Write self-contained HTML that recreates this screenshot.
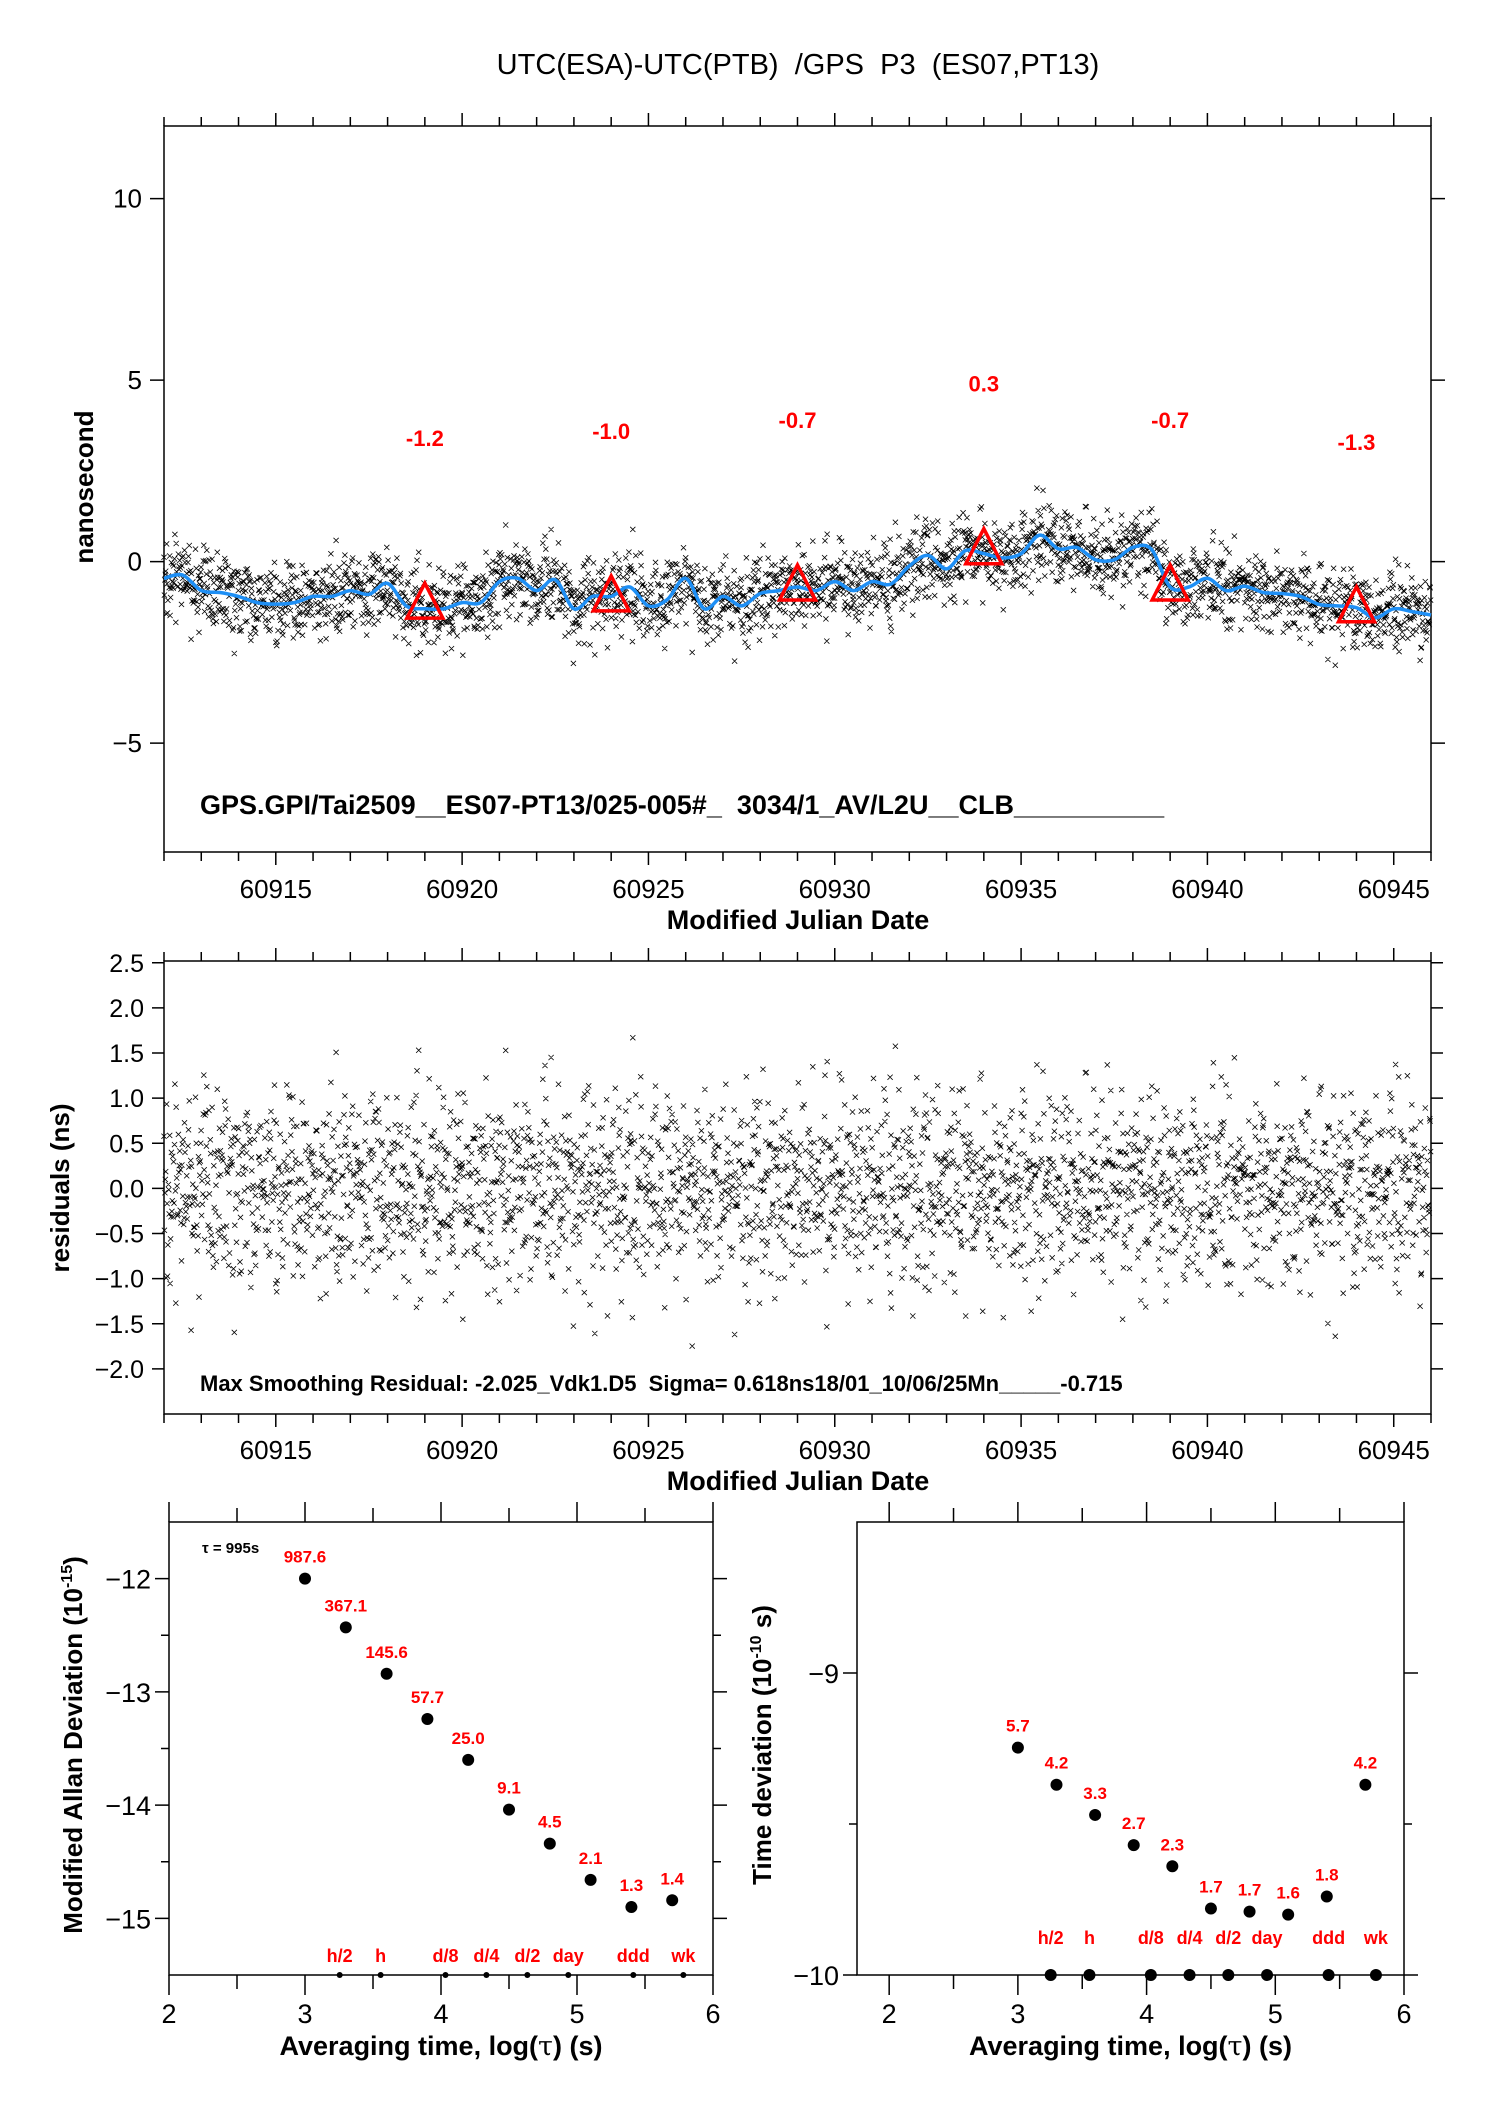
<!DOCTYPE html>
<html><head><meta charset="utf-8">
<style>
html,body{margin:0;padding:0;background:#fff;}
svg{display:block;font-family:"Liberation Sans",sans-serif;}
text{white-space:pre;}
</style></head>
<body>
<svg id="fig" width="1488" height="2105" viewBox="0 0 1488 2105" xmlns="http://www.w3.org/2000/svg">
<text x="798" y="74" font-size="29" text-anchor="middle">UTC(ESA)-UTC(PTB)  /GPS  P3  (ES07,PT13)</text>
<g id="top"></g>
<g id="mid"></g>
<g id="bl"></g>
<g id="br"></g>
</svg>
<script>
// ---- data ----
const smoothDays = [60912,60912.5,60913,60913.5,60914,60914.5,60915,60915.5,60916,60916.5,60917,60917.5,60918,60918.5,60919,60919.5,60920,60920.5,60921,60921.5,60922,60922.5,60923,60923.5,60924,60924.5,60925,60925.5,60926,60926.5,60927,60927.5,60928,60928.5,60929,60929.5,60930,60930.5,60931,60931.5,60932,60932.5,60933,60933.5,60934,60934.5,60935,60935.5,60936,60936.5,60937,60937.5,60938,60938.5,60939,60939.5,60940,60940.5,60941,60941.5,60942,60942.5,60943,60943.5,60944,60944.5,60945,60945.5,60946];
const smoothVals = [-0.46,-0.37,-0.8,-0.85,-0.96,-1.13,-1.17,-1.13,-0.96,-0.96,-0.8,-0.9,-0.6,-1.22,-1.3,-1.3,-1.13,-1.13,-0.55,-0.46,-0.8,-0.5,-1.3,-0.96,-0.96,-0.7,-1.22,-1.05,-0.46,-1.3,-0.96,-1.22,-0.88,-0.8,-0.7,-0.8,-0.55,-0.8,-0.55,-0.62,-0.12,0.17,-0.2,0.3,0.22,0.1,0.22,0.73,0.35,0.39,0.05,0.05,0.39,0.34,-0.7,-0.7,-0.46,-0.8,-0.68,-0.85,-0.88,-0.96,-1.18,-1.22,-1.27,-1.55,-1.3,-1.38,-1.47];
const triDays = [60919,60924,60929,60934,60939,60944];
const triVals = [-1.2,-1.0,-0.7,0.3,-0.7,-1.3];
const triLabels = ["-1.2","-1.0","-0.7","0.3","-0.7","-1.3"];
const noise = [0.12,-0.85,0.43,1.31,-0.27,-1.52,0.66,0.05,-0.38,0.97,-1.08,0.21,1.74,-0.63,-0.14,0.52,-1.95,0.34,0.88,-0.47,0.09,-0.72,1.12,-0.29,0.61,-1.21,0.18,-0.05,1.45,-0.91,0.37,-0.56,0.79,-1.38,0.26,0.02,-0.81,1.03,-0.19,0.55,-1.67,0.41,-0.33,0.94,-0.11,1.58,-0.99,0.29,-0.44,0.71,-1.04,0.15,2.05,-0.24,-0.68,0.47,-1.29,0.83,0.07,-0.52,1.21,-0.36,0.24,-2.1,0.63,-0.17,0.91,-0.77,0.32,1.37,-0.58,-0.08,0.74,-1.14,0.45,-0.31,1.02,-0.89,0.19,0.58,-1.45,0.36,-0.02,1.26,-0.65,0.11,-0.42,0.86,-1.73,0.27,0.68,-0.21,-0.95,1.62,-0.13,0.49,-1.17];
const nPoints = 2900;
const tickDaysMajor = [60915,60920,60925,60930,60935,60940,60945];
const topYTicks = [-5,0,5,10];
const midYTicks = [-2.0,-1.5,-1.0,-0.5,0.0,0.5,1.0,1.5,2.0,2.5];
const logTau = [3,3.3,3.6,3.9,4.2,4.5,4.8,5.1,5.4,5.7];
const madevVals = [-12.0,-12.43,-12.84,-13.24,-13.6,-14.04,-14.34,-14.66,-14.9,-14.84];
const madevLabels = ["987.6","367.1","145.6","57.7","25.0","9.1","4.5","2.1","1.3","1.4"];
const tdevVals = [-9.247,-9.37,-9.47,-9.57,-9.64,-9.78,-9.79,-9.80,-9.74,-9.37];
const tdevLabels = ["5.7","4.2","3.3","2.7","2.3","1.7","1.7","1.6","1.8","4.2"];
const markNames = ["h/2","h","d/8","d/4","d/2","day","ddd","wk"];
const markLog = [3.255,3.556,4.033,4.334,4.635,4.936,5.414,5.782];

const NS="http://www.w3.org/2000/svg";
function mk(parent,tag,attrs,txt){const e=document.createElementNS(NS,tag);for(const k in attrs)e.setAttribute(k,attrs[k]);if(txt!==undefined)e.textContent=txt;parent.appendChild(e);return e;}
function interp(t){for(let i=0;i<smoothDays.length-1;i++){if(t<=smoothDays[i+1]){const f=(t-smoothDays[i])/(smoothDays[i+1]-smoothDays[i]);return smoothVals[i]+f*(smoothVals[i+1]-smoothVals[i]);}}return smoothVals[smoothVals.length-1];}
function resid(i){const n=noise.length;return 0.45*noise[(i*37)%n]+0.38*noise[(Math.floor(i/n)*29+i*13+3)%n]+0.22*noise[(Math.floor(i/7)*31+i)%n];}
function cross(x,y,s){x=+x;y=+y;const a=(x-s).toFixed(1),b=(x+s).toFixed(1),c=(y-s).toFixed(1),d=(y+s).toFixed(1);return `M${a},${c}L${b},${d}M${a},${d}L${b},${c}`;}
function smoothPath(pts){let d=`M${pts[0][0].toFixed(1)},${pts[0][1].toFixed(1)}`;for(let i=0;i<pts.length-1;i++){const p0=pts[Math.max(0,i-1)],p1=pts[i],p2=pts[i+1],p3=pts[Math.min(pts.length-1,i+2)];const c1=[p1[0]+(p2[0]-p0[0])/6,p1[1]+(p2[1]-p0[1])/6],c2=[p2[0]-(p3[0]-p1[0])/6,p2[1]-(p3[1]-p1[1])/6];d+=`C${c1[0].toFixed(1)},${c1[1].toFixed(1)} ${c2[0].toFixed(1)},${c2[1].toFixed(1)} ${p2[0].toFixed(1)},${p2[1].toFixed(1)}`;}return d;}

// ---- TOP ----
(function(){
const g=document.getElementById('top');
const L=164,R=1431,T=126,B=852;
const X=d=>L+(d-60912)/(34)*(R-L);
const Y=v=>B-(v+8)/20*(B-T);
const frame=mk(g,'rect',{x:L,y:T,width:R-L,height:B-T,fill:'none',stroke:'#000','stroke-width':1.5});

let p='';
for(let d=60912;d<=60946;d++){const maj=tickDaysMajor.includes(d);const l=maj?13:9;p+=`M${X(d)},${T}V${T-l}M${X(d)},${B}V${B+l}`;}
for(const v of topYTicks){p+=`M${L},${Y(v)}H${L-14}M${R},${Y(v)}H${R+14}`;}
const tk=mk(g,'path',{d:p,stroke:'#000','stroke-width':1.5,fill:'none'});

for(const d of tickDaysMajor){const t=mk(g,'text',{x:X(d),y:898,'font-size':26,'text-anchor':'middle'},String(d));}
for(const v of topYTicks){const t=mk(g,'text',{x:L-22,y:Y(v)+9,'font-size':26,'text-anchor':'end'},v<0?'\u2212'+Math.abs(v):String(v));}
const xl=mk(g,'text',{x:798,y:929,'font-size':27,'font-weight':'bold','text-anchor':'middle'},'Modified Julian Date');

const yl=mk(g,'text',{x:0,y:0,'font-size':26,'font-weight':'bold','text-anchor':'middle',transform:'translate(93,487) rotate(-90)'},'nanosecond');

let sp='';
for(let i=0;i<nPoints;i++){const t=60912+i*34/nPoints;const v=interp(t)+resid(i);sp+=cross(X(t),Y(v),2.6);}
const sc=mk(g,'path',{d:sp,stroke:'#000','stroke-width':0.8,fill:'none'});

const line=mk(g,'path',{d:smoothPath(smoothDays.map((d,i)=>[X(d),Y(smoothVals[i])])),stroke:'#1e8ff5','stroke-width':3.5,fill:'none','stroke-linejoin':'round'});

triDays.forEach((d,i)=>{const x=X(d),y=Y(triVals[i]);
 const tr=mk(g,'path',{d:`M${x},${y-22}L${x+18},${y+13}L${x-18},${y+13}Z`,fill:'none',stroke:'#f00','stroke-width':3.5});
 
 const lb=mk(g,'text',{x:x,y:Y(triVals[i]+4.6)+8,'font-size':22,'font-weight':'bold',fill:'#f00','text-anchor':'middle'},triLabels[i]);
 });
const an=mk(g,'text',{x:200,y:814,'font-size':27,'font-weight':'bold'},'GPS.GPI/Tai2509__ES07-PT13/025-005#_  3034/1_AV/L2U__CLB__________');

})();

// ---- MIDDLE ----
(function(){
const g=document.getElementById('mid');
const L=164,R=1431,T=961,B=1414;
const X=d=>L+(d-60912)/34*(R-L);
const Y=v=>B-(v+2.5)/5.02*(B-T);
const frame=mk(g,'rect',{x:L,y:T,width:R-L,height:B-T,fill:'none',stroke:'#000','stroke-width':1.5});

let p='';
for(let d=60912;d<=60946;d++){const maj=tickDaysMajor.includes(d);const l=maj?13:9;p+=`M${X(d)},${T}V${T-l}M${X(d)},${B}V${B+l}`;}
for(const v of midYTicks){p+=`M${L},${Y(v)}H${L-12}M${R},${Y(v)}H${R+12}`;}
const tk=mk(g,'path',{d:p,stroke:'#000','stroke-width':1.5,fill:'none'});

for(const d of tickDaysMajor){const t=mk(g,'text',{x:X(d),y:1459,'font-size':26,'text-anchor':'middle'},String(d));}
for(const v of midYTicks){const t=mk(g,'text',{x:L-20,y:Y(v)+9,'font-size':25,'text-anchor':'end'},(v<0?'\u2212':'')+Math.abs(v).toFixed(1));}
const xl=mk(g,'text',{x:798,y:1490,'font-size':27,'font-weight':'bold','text-anchor':'middle'},'Modified Julian Date');

const yl=mk(g,'text',{x:0,y:0,'font-size':26,'font-weight':'bold','text-anchor':'middle',transform:'translate(69,1188) rotate(-90)'},'residuals (ns)');

let sp='';
for(let i=0;i<nPoints;i++){const t=60912+i*34/nPoints;const v=resid(i);sp+=cross(X(t),Y(v),2.6);}
const sc=mk(g,'path',{d:sp,stroke:'#000','stroke-width':0.8,fill:'none'});

const an=mk(g,'text',{x:200,y:1391,'font-size':22,'font-weight':'bold'},'Max Smoothing Residual: -2.025_Vdk1.D5  Sigma= 0.618ns18/01_10/06/25Mn_____-0.715');

})();

// ---- bottom panels ----
function devPanel(id,L,R,xmin,xmax,ymin,ymax,yMaj,yMin,vals,labels,yTitle,ySup,ySuf,dotR,markR,markLabY,yLabX){
const g=document.getElementById(id);
const T=1522,B=1975;
const X=v=>L+(v-xmin)/(xmax-xmin)*(R-L);
const Y=v=>B-(v-ymin)/(ymax-ymin)*(B-T);
const frame=mk(g,'rect',{x:L,y:T,width:R-L,height:B-T,fill:'none',stroke:'#000','stroke-width':1.5});

let p='';
for(let x=2;x<=6;x+=0.5){const l=(x%1===0)?20:14;p+=`M${X(x)},${T}V${T-l}M${X(x)},${B}V${B+l}`;}
for(const v of yMaj){p+=`M${L},${Y(v)}H${L-14}M${R},${Y(v)}H${R+14}`;}
for(const v of yMin){p+=`M${L},${Y(v)}H${L-8}M${R},${Y(v)}H${R+8}`;}
const tk=mk(g,'path',{d:p,stroke:'#000','stroke-width':1.5,fill:'none'});

for(let x=2;x<=6;x++){const t=mk(g,'text',{x:X(x),y:2023,'font-size':27,'text-anchor':'middle'},String(x));}
for(const v of yMaj){const t=mk(g,'text',{x:L-18,y:Y(v)+10,'font-size':27,'text-anchor':'end'},'\u2212'+Math.abs(v));}
const xl=mk(g,'text',{x:(L+R)/2,y:2055,'font-size':27,'font-weight':'bold','text-anchor':'middle'});

xl.appendChild(document.createTextNode('Averaging time, log('));
mk(xl,'tspan',{'font-family':'"DejaVu Serif",serif','font-weight':'normal'},'\u03c4');
xl.appendChild(document.createTextNode(') (s)'));
const yl=mk(g,'text',{x:0,y:0,'font-size':26,'font-weight':'bold','text-anchor':'middle',transform:`translate(${yLabX},1745) rotate(-90)`});

yl.appendChild(document.createTextNode(yTitle));
mk(yl,'tspan',{'font-size':16,dy:-10},ySup);
mk(yl,'tspan',{dy:10},ySuf);
logTau.forEach((lt,i)=>{const c=mk(g,'circle',{cx:X(lt),cy:Y(vals[i]),r:dotR,fill:'#000'});
 
 const lb=mk(g,'text',{x:X(lt),y:Y(vals[i])-dotR-10,'font-size':17,'font-weight':'bold',fill:'#f00','text-anchor':'middle'},labels[i]);
 });
markLog.forEach((lt,i)=>{const c=mk(g,'circle',{cx:X(lt),cy:B,r:markR,fill:'#000'});
 
 const lb=mk(g,'text',{x:X(lt),y:markLabY,'font-size':18,'font-weight':'bold',fill:'#f00','text-anchor':'middle'},markNames[i]);
 });
return g;}
const gbl=devPanel('bl',169,713,2,6,-15.5,-11.5,[-12,-13,-14,-15],[-12.5,-13.5,-14.5],madevVals,madevLabels,'Modified Allan Deviation (10','-15',')',6,3,1962,82);
const tau=mk(gbl,'text',{x:202,y:1553,'font-size':15,'font-weight':'bold'},'\u03c4 = 995s');

devPanel('br',857,1404,1.75,6,-10,-8.5,[-9,-10],[-9.5],tdevVals,tdevLabels,'Time deviation (10','-10',' s)',6,6,1944,771);
</script>
</body></html>
